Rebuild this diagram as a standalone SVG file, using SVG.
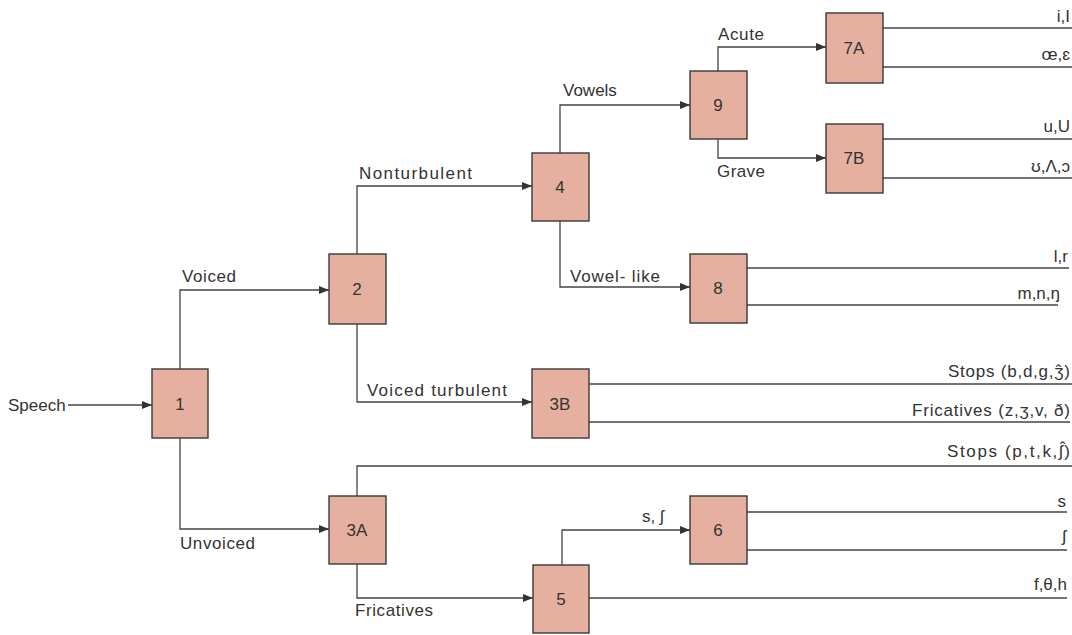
<svg xmlns="http://www.w3.org/2000/svg" width="1072" height="635" viewBox="0 0 1072 635">
  <style>
    .box { fill: #e5b0a0; stroke: #3a3a3a; stroke-width: 1.4; }
    .num { font-family: "Liberation Sans", "DejaVu Sans", sans-serif; font-size: 17px; fill: #333; text-anchor: middle; dominant-baseline: central; }
    .lbl { font-family: "Liberation Sans", "DejaVu Sans", sans-serif; font-size: 17px; fill: #333; }
    .out { font-family: "Liberation Sans", "DejaVu Sans", sans-serif; font-size: 17px; fill: #333; text-anchor: end; }
    .wire { fill: none; stroke: #444; stroke-width: 1.3; }
  </style>
  <defs>
    <marker id="arrow" markerUnits="userSpaceOnUse" markerWidth="11" markerHeight="9" refX="10" refY="4" orient="auto">
      <path d="M0,0 L10,4 L0,8 z" fill="#333"/>
    </marker>
  </defs>
  <rect width="1072" height="635" fill="#fff"/>

  <!-- connectors -->
  <g id="connectors">
    <path class="wire" d="M68,405 H152" marker-end="url(#arrow)"/>
    <path class="wire" d="M180,369 V290 H329" marker-end="url(#arrow)"/>
    <path class="wire" d="M180,438 V529 H329" marker-end="url(#arrow)"/>
    <path class="wire" d="M357,254 V186 H532" marker-end="url(#arrow)"/>
    <path class="wire" d="M357,324 V402 H532" marker-end="url(#arrow)"/>
    <path class="wire" d="M560,153 V105 H690" marker-end="url(#arrow)"/>
    <path class="wire" d="M560,221 V287 H690" marker-end="url(#arrow)"/>
    <path class="wire" d="M718,71 V47 H826" marker-end="url(#arrow)"/>
    <path class="wire" d="M718,139 V158 H826" marker-end="url(#arrow)"/>
    <path class="wire" d="M357,496 V466 H1072"/>
    <path class="wire" d="M357,564 V598 H533" marker-end="url(#arrow)"/>
    <path class="wire" d="M562,565 V530 H690" marker-end="url(#arrow)"/>
    <path class="wire" d="M589,598 H1067"/>
    <!-- outputs -->
    <path class="wire" d="M883,28 H1072"/>
    <path class="wire" d="M883,67 H1072"/>
    <path class="wire" d="M883,139 H1072"/>
    <path class="wire" d="M883,178 H1072"/>
    <path class="wire" d="M747,268 H1069"/>
    <path class="wire" d="M747,305 H1058"/>
    <path class="wire" d="M589,384 H1072"/>
    <path class="wire" d="M589,422 H1070"/>
    <path class="wire" d="M747,512 H1067"/>
    <path class="wire" d="M747,550 H1067"/>
  </g>

  <!-- branch labels -->
  <g id="labels">
    <text class="lbl" x="8" y="411">Speech</text>
    <text class="lbl" x="182" y="282" textLength="54">Voiced</text>
    <text class="lbl" x="180" y="549" textLength="75">Unvoiced</text>
    <text class="lbl" x="359" y="179" textLength="113">Nonturbulent</text>
    <text class="lbl" x="367" y="396" textLength="140">Voiced  turbulent</text>
    <text class="lbl" x="563" y="96">Vowels</text>
    <text class="lbl" x="570" y="282" textLength="90">Vowel- like</text>
    <text class="lbl" x="718" y="40" textLength="46">Acute</text>
    <text class="lbl" x="717" y="177" textLength="48">Grave</text>
    <text class="lbl" x="355" y="616" textLength="78">Fricatives</text>
    <text class="lbl" x="642" y="522">s, ʃ</text>
  </g>

  <!-- output labels -->
  <g id="outputs">
    <text class="out" x="1070" y="22">i,I</text>
    <text class="out" x="1070" y="60">œ,ɛ</text>
    <text class="out" x="1070" y="132">u,U</text>
    <text class="out" x="1070" y="172">ʊ,Λ,ɔ</text>
    <text class="out" x="1068" y="262">l,r</text>
    <text class="out" x="1060" y="299">m,n,ŋ</text>
    <text class="out" x="1070" y="377" textLength="122">Stops (b,d,g,ʒ̂)</text>
    <text class="out" x="1070" y="416" textLength="158">Fricatives (z,ʒ,v, ð)</text>
    <text class="out" x="1070" y="457" textLength="123">Stops (p,t,k,ʃ̂)</text>
    <text class="out" x="1066" y="507">s</text>
    <text class="out" x="1066" y="542">ʃ</text>
    <text class="out" x="1067" y="590">f,θ,h</text>
  </g>

  <!-- decision nodes -->
  <g id="node-1"><rect class="box" x="152" y="369" width="56" height="69"/><text class="num" x="180" y="404">1</text></g>
  <g id="node-2"><rect class="box" x="329" y="254" width="57" height="70"/><text class="num" x="357" y="289">2</text></g>
  <g id="node-3A"><rect class="box" x="329" y="496" width="57" height="68"/><text class="num" x="357" y="530">3A</text></g>
  <g id="node-3B"><rect class="box" x="532" y="369" width="57" height="69"/><text class="num" x="560" y="404">3B</text></g>
  <g id="node-4"><rect class="box" x="532" y="153" width="57" height="68"/><text class="num" x="560" y="187">4</text></g>
  <g id="node-5"><rect class="box" x="533" y="565" width="56" height="68"/><text class="num" x="561" y="599">5</text></g>
  <g id="node-6"><rect class="box" x="690" y="496" width="57" height="68"/><text class="num" x="718" y="530">6</text></g>
  <g id="node-7A"><rect class="box" x="826" y="13" width="57" height="70"/><text class="num" x="854" y="48">7A</text></g>
  <g id="node-7B"><rect class="box" x="826" y="124" width="57" height="69"/><text class="num" x="854" y="158">7B</text></g>
  <g id="node-8"><rect class="box" x="690" y="254" width="57" height="69"/><text class="num" x="718" y="288">8</text></g>
  <g id="node-9"><rect class="box" x="690" y="71" width="57" height="68"/><text class="num" x="718" y="105">9</text></g>
</svg>
